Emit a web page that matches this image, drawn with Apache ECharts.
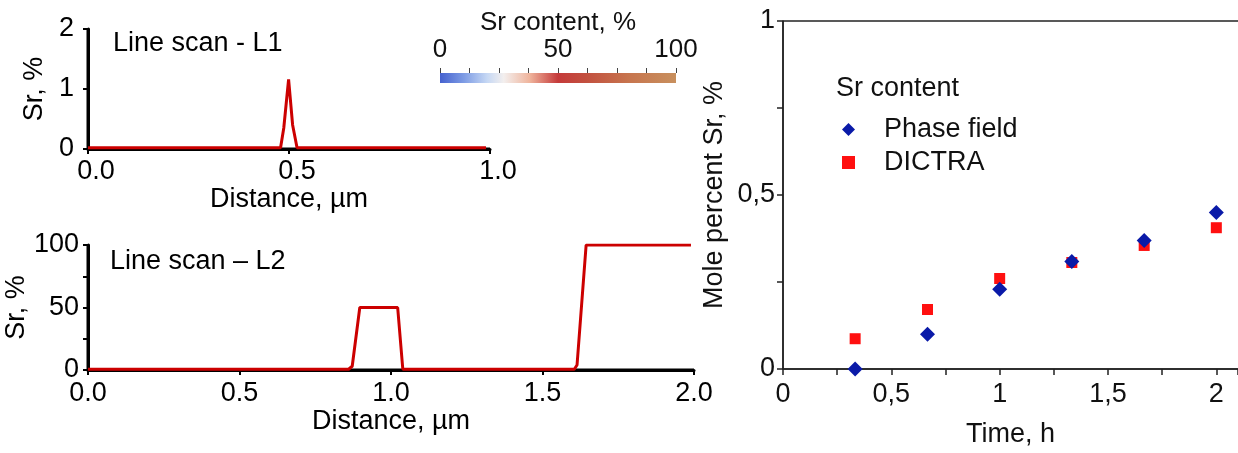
<!DOCTYPE html>
<html>
<head>
<meta charset="utf-8">
<script src="https://cdn.jsdelivr.net/npm/echarts@6/dist/echarts.min.js"></script>
<style>
  html, body { margin: 0; padding: 0; background: #fff; }
  #chart { width: 1238px; height: 453px; }
</style>
</head>
<body>
<div id="chart"></div>
<script>
// ---- Data ----
const l1Distance = [0, 0.479, 0.487, 0.499, 0.509, 0.52, 0.99];
const l1Sr       = [0.02, 0.02, 0.35, 1.16, 0.4, 0.02, 0.02];

const l2Distance = [0, 0.86, 0.872, 0.897, 1.022, 1.039, 1.605, 1.614, 1.644, 1.99];
const l2Sr       = [0.6, 0.6, 3, 50, 50, 0.6, 0.6, 4, 100, 100];

const timeH      = [0.333, 0.667, 1, 1.333, 1.667, 2];
const phaseField = [0.0, 0.1, 0.229, 0.309, 0.369, 0.45];
const dictra     = [0.087, 0.171, 0.26, 0.306, 0.355, 0.406];

const l1Title = 'Line scan - L1';
const l2Title = 'Line scan \u2013 L2';
const colorbarTicks = [0, 50, 100];
const colorbarMax = 100;

// axis ranges
const l1XRange = [0, 1];
const l1YRange = [0, 2];
const l2XRange = [0, 2];
const l2YRange = [0, 100];
const timeRange = [0, 2.1];
const moleRange = [0, 1];

// ---- Helpers ----
const FONT = "'Liberation Sans', Arial, sans-serif";
const pair = (xs, ys) => xs.map((x, i) => [x, ys[i]]);
const comma = v => String(+v.toFixed(2)).replace('.', ',');
const isMult = (v, m) => Math.abs(v / m - Math.round(v / m)) < 1e-6;

// axis spines drawn through the axes' own scales
function spine(xi, yi, pts, color, width) {
  return { type: 'line', xAxisIndex: xi, yAxisIndex: yi, data: pts,
    showSymbol: false, symbol: 'none', clip: false, silent: true,
    lineStyle: { color: color, width: width }, z: 3, animation: false };
}
function frame(xi, yi, xr, yr, color, width, box) {
  const out = [
    spine(xi, yi, [[xr[0], yr[0]], [xr[0], yr[1]]], color, width),
    spine(xi, yi, [[xr[0], yr[0]], [xr[1], yr[0]]], color, width)
  ];
  if (box) out.push(spine(xi, yi, [[xr[0], yr[1]], [xr[1], yr[1]]], color, width));
  return out;
}

const blackLine = { show: true, lineStyle: { color: '#000', width: 3 } };
const blackTick = { show: true, length: 5, lineStyle: { color: '#000', width: 2 } };
const lbl = (extra) => Object.assign({ color: '#000', fontSize: 27, fontFamily: FONT }, extra);
const nameStyle = { fontSize: 27, color: '#000', fontFamily: FONT };
const greyLine = { show: true, lineStyle: { color: '#222', width: 1.5 } };
const greyTick = { show: true, length: 6, lineStyle: { color: '#222', width: 1.5 } };
const greyTickIn = { show: true, inside: true, length: 6, lineStyle: { color: '#222', width: 1.5 } };

const chart = echarts.init(document.getElementById('chart'), null, { renderer: 'canvas' });

chart.setOption({
  animation: false,
  backgroundColor: '#fff',
  textStyle: { fontFamily: FONT },
  grid: [
    { left: 88, top: 29, width: 402, height: 120 },
    { left: 88, top: 245, width: 606, height: 125 },
    { left: 783, top: 21, width: 455.7, height: 350 },
    { left: 440, top: 73, width: 236, height: 10 }
  ],
  legend: {
    orient: 'vertical', left: 837, top: 111, itemWidth: 13, itemHeight: 13, itemGap: 6,
    data: [{ name: 'Phase field', icon: 'diamond' }, { name: 'DICTRA', icon: 'rect' }],
    textStyle: { fontSize: 27, color: '#111', fontFamily: FONT, padding: [0, 0, 0, 24] }
  },
  graphic: [
    { type: 'text', left: 113, top: 30, style: { text: l1Title, fontSize: 27, fontFamily: FONT, fill: '#000' } },
    { type: 'text', left: 110, top: 248, style: { text: l2Title, fontSize: 27, fontFamily: FONT, fill: '#000' } },
    { type: 'text', left: 836, top: 75, style: { text: 'Sr content', fontSize: 27, fontFamily: FONT, fill: '#111' } }
  ],
  xAxis: [
    { gridIndex: 0, type: 'value', min: l1XRange[0], max: l1XRange[1], interval: 0.5,
      name: 'Distance, \u00b5m', nameLocation: 'middle', nameGap: 36, nameTextStyle: nameStyle,
      axisLine: blackLine, axisTick: blackTick,
      axisLabel: lbl({ margin: 9, padding: [0, 0, 0, 16], formatter: v => v.toFixed(1) }),
      splitLine: { show: false } },
    { gridIndex: 1, type: 'value', min: l2XRange[0], max: l2XRange[1], interval: 0.5,
      name: 'Distance, \u00b5m', nameLocation: 'middle', nameGap: 38, nameTextStyle: nameStyle,
      axisLine: blackLine, axisTick: blackTick,
      axisLabel: lbl({ margin: 10, formatter: v => v.toFixed(1) }),
      splitLine: { show: false } },
    { gridIndex: 2, type: 'value', min: timeRange[0], max: timeRange[1], interval: 0.25,
      name: 'Time, h', nameLocation: 'middle', nameGap: 52,
      nameTextStyle: { fontSize: 27, color: '#111', fontFamily: FONT },
      axisLine: greyLine, axisTick: greyTick,
      axisLabel: { color: '#111', fontSize: 27, fontFamily: FONT, margin: 12, showMaxLabel: false,
        formatter: v => (isMult(v, 0.5) ? comma(v) : '') },
      splitLine: { show: false } },
    { gridIndex: 2, type: 'value', min: timeRange[0], max: timeRange[1], interval: 0.25, position: 'top',
      axisLine: { show: false }, axisTick: greyTickIn,
      axisLabel: { show: false }, splitLine: { show: false } },
    { gridIndex: 3, type: 'value', min: 0, max: colorbarMax, interval: 12.5, position: 'top',
      name: 'Sr content, %', nameLocation: 'middle', nameGap: 35,
      nameTextStyle: { fontSize: 26, color: '#111', fontFamily: FONT },
      axisLine: { show: false },
      axisTick: { show: true, length: 5, lineStyle: { color: '#444', width: 1 } },
      axisLabel: { color: '#111', fontSize: 26, fontFamily: FONT, margin: 10,
        formatter: v => (colorbarTicks.indexOf(v) >= 0 ? String(v) : '') },
      splitLine: { show: false } }
  ],
  yAxis: [
    { gridIndex: 0, type: 'value', min: l1YRange[0], max: l1YRange[1], interval: 1,
      name: 'Sr, %', nameLocation: 'middle', nameGap: 40, nameTextStyle: nameStyle,
      axisLine: blackLine, axisTick: blackTick,
      axisLabel: lbl({ margin: 14 }), splitLine: { show: false } },
    { gridIndex: 1, type: 'value', min: l2YRange[0], max: l2YRange[1], interval: 25,
      name: 'Sr, %', nameLocation: 'middle', nameGap: 51, nameTextStyle: nameStyle,
      axisLine: blackLine, axisTick: blackTick,
      axisLabel: lbl({ margin: 9, formatter: v => (isMult(v, 50) ? String(v) : '') }),
      splitLine: { show: false } },
    { gridIndex: 2, type: 'value', min: moleRange[0], max: moleRange[1], interval: 0.25,
      name: 'Mole percent Sr, %', nameLocation: 'middle', nameGap: 55,
      nameTextStyle: { fontSize: 27, color: '#111', fontFamily: FONT },
      axisLine: greyLine, axisTick: greyTick,
      axisLabel: { color: '#111', fontSize: 27, fontFamily: FONT, margin: 8,
        formatter: v => (isMult(v, 0.5) ? comma(v) : '') },
      splitLine: { show: false } },
    { gridIndex: 2, type: 'value', min: moleRange[0], max: moleRange[1], interval: 0.25, position: 'right',
      axisLine: { show: false }, axisTick: greyTickIn,
      axisLabel: { show: false }, splitLine: { show: false } },
    { gridIndex: 3, type: 'category', data: ['Sr'], show: false }
  ],
  series: [
    ...frame(0, 0, l1XRange, l1YRange, '#000', 3, false),
    ...frame(1, 1, l2XRange, l2YRange, '#000', 3, false),
    ...frame(2, 2, timeRange, moleRange, '#222', 1.5, true),
    { type: 'line', xAxisIndex: 0, yAxisIndex: 0, data: pair(l1Distance, l1Sr),
      showSymbol: false, lineStyle: { color: '#cc0000', width: 3 }, z: 5 },
    { type: 'line', xAxisIndex: 1, yAxisIndex: 1, data: pair(l2Distance, l2Sr),
      showSymbol: false, lineStyle: { color: '#cc0000', width: 3 }, z: 5 },
    { name: 'DICTRA', type: 'scatter', xAxisIndex: 2, yAxisIndex: 2, data: pair(timeH, dictra),
      symbol: 'rect', symbolSize: 11, itemStyle: { color: '#ff1010', opacity: 1 }, z: 4 },
    { name: 'Phase field', type: 'scatter', xAxisIndex: 2, yAxisIndex: 2, data: pair(timeH, phaseField),
      symbol: 'diamond', symbolSize: 15, itemStyle: { color: '#0a1aa8', opacity: 1 }, z: 5 },
    { name: 'colorbar', type: 'bar', xAxisIndex: 4, yAxisIndex: 4, data: [colorbarMax],
      barWidth: '100%', silent: true,
      itemStyle: {
        color: new echarts.graphic.LinearGradient(0, 0, 1, 0, [
          { offset: 0, color: '#4561cf' },
          { offset: 0.1, color: '#7d9be4' },
          { offset: 0.2, color: '#c6d8f4' },
          { offset: 0.27, color: '#f3efee' },
          { offset: 0.38, color: '#efb49c' },
          { offset: 0.5, color: '#c53a3a' },
          { offset: 0.62, color: '#c2503f' },
          { offset: 0.8, color: '#c7754e' },
          { offset: 1, color: '#c8905e' }
        ])
      } }
  ]
});
</script>
</body>
</html>
